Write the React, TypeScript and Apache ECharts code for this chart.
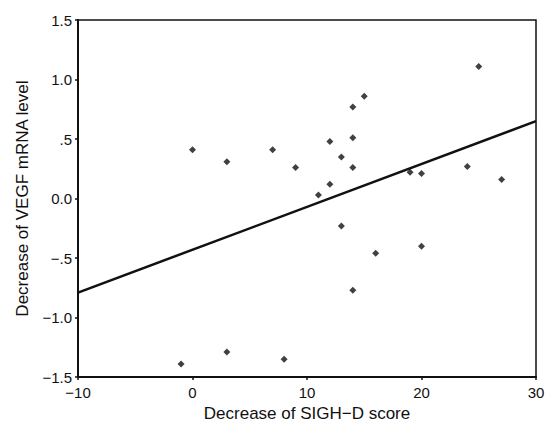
import React, { useEffect, useRef } from "react";
import * as echarts from "echarts";

const xValues = [0, -1, 3, 3, 7, 8, 9, 11, 12, 12, 13, 13, 14, 14, 14, 14, 15, 16, 19, 20, 20, 24, 25, 27];
const yValues = [0.41, -1.39, 0.31, -1.29, 0.41, -1.35, 0.26, 0.03, 0.48, 0.12, 0.35, -0.23, 0.51, 0.26, 0.77, -0.77, 0.86, -0.46, 0.22, 0.21, -0.4, 0.27, 1.11, 0.16];
const fitX = [-10, 30];
const fitY = [-0.79, 0.65];
const xTicks = [-10, 0, 10, 20, 30];
const yTickLabels: Record<string, string> = {
  "1.5": "1.5",
  "1": "1.0",
  "0.5": ".5",
  "0": "0.0",
  "-0.5": "\u2212.5",
  "-1": "\u22121.0",
  "-1.5": "\u22121.5",
};

export default function App() {
  const ref = useRef<HTMLDivElement>(null);
  useEffect(() => {
    if (!ref.current) return;
    const chart = echarts.init(ref.current, null, { renderer: "svg" });
    const font = "'Liberation Sans', Arial, sans-serif";
    chart.setOption({
      animation: false,
      backgroundColor: "#fff",
      grid: {
        left: 78,
        right: 12,
        top: 20,
        bottom: 47,
        show: true,
        borderColor: "#111",
        borderWidth: 1.5,
      },
      xAxis: {
        type: "value",
        min: -10,
        max: 30,
        interval: 10,
        name: "Decrease of SIGH\u2212D score",
        nameLocation: "middle",
        nameGap: 26,
        nameTextStyle: { fontFamily: font, fontSize: 17, color: "#111" },
        axisLine: { show: true, onZero: false, lineStyle: { color: "#111", width: 2 } },
        axisTick: { show: true, inside: false, length: 3, lineStyle: { color: "#111", width: 1.5 } },
        axisLabel: {
          fontFamily: font,
          fontSize: 15,
          color: "#111",
          margin: 8,
          formatter: (v: number) => (xTicks.includes(v) ? String(v).replace("-", "\u2212") : ""),
        },
        splitLine: { show: false },
      },
      yAxis: {
        type: "value",
        min: -1.5,
        max: 1.5,
        interval: 0.5,
        name: "Decrease of VEGF mRNA level",
        nameLocation: "middle",
        nameGap: 46,
        nameTextStyle: { fontFamily: font, fontSize: 17, color: "#111" },
        axisLine: { show: true, onZero: false, lineStyle: { color: "#111", width: 2 } },
        axisTick: { show: true, inside: false, length: 3, lineStyle: { color: "#111", width: 1.5 } },
        axisLabel: {
          fontFamily: font,
          fontSize: 15,
          color: "#111",
          margin: 6,
          formatter: (v: number) => yTickLabels[String(v)] ?? String(v),
        },
        splitLine: { show: false },
      },
      series: [
        {
          type: "line",
          data: fitX.map((x, i) => [x, fitY[i]]),
          showSymbol: false,
          symbol: "none",
          lineStyle: { color: "#111", width: 2.5 },
          z: 2,
        },
        {
          type: "scatter",
          data: xValues.map((x, i) => [x, yValues[i]]),
          symbol: "diamond",
          symbolSize: 7,
          itemStyle: { color: "#111" },
          z: 3,
        },
      ],
    });
    return () => chart.dispose();
  }, []);
  return <div ref={ref} style={{ width: 548, height: 427, position: "absolute", left: 0, top: 0 }} />;
}
